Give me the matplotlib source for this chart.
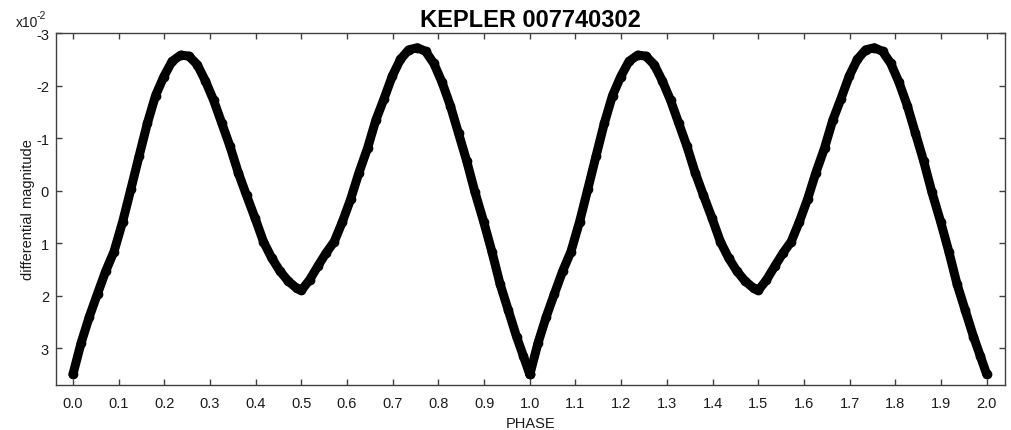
import matplotlib
matplotlib.use('Agg')
import matplotlib.pyplot as plt
import numpy as np

plt.rcParams['font.family'] = ['Liberation Sans', 'DejaVu Sans']
plt.rcParams['axes.unicode_minus'] = False

# one folded cycle (magnitude in units of 1e-2)
phase = [0.000, 0.018, 0.036, 0.054, 0.072, 0.090, 0.109, 0.127, 0.145, 0.163,
         0.181, 0.199, 0.217, 0.236, 0.254, 0.272, 0.290, 0.308, 0.326, 0.344,
         0.362, 0.380, 0.399, 0.417, 0.435, 0.453, 0.471, 0.490, 0.500, 0.518,
         0.536, 0.554, 0.572, 0.590, 0.608, 0.626, 0.645, 0.663, 0.681, 0.699,
         0.717, 0.735, 0.754, 0.772, 0.790, 0.808, 0.826, 0.844, 0.862, 0.880,
         0.899, 0.917, 0.935, 0.953, 0.971, 0.986, 1.000]
mag = [3.50, 2.90, 2.40, 1.96, 1.53, 1.16, 0.59, -0.03, -0.66, -1.28,
       -1.81, -2.17, -2.46, -2.58, -2.56, -2.40, -2.09, -1.72, -1.28, -0.84,
       -0.34, 0.09, 0.53, 0.97, 1.28, 1.53, 1.72, 1.86, 1.90, 1.70,
       1.44, 1.19, 0.97, 0.59, 0.16, -0.34, -0.81, -1.34, -1.75, -2.18,
       -2.50, -2.68, -2.72, -2.65, -2.42, -2.06, -1.62, -1.09, -0.56, 0.03,
       0.59, 1.16, 1.78, 2.28, 2.78, 3.15, 3.50]

xticks = [round(0.1 * i, 1) for i in range(21)]
yticks = [-3, -2, -1, 0, 1, 2, 3]

fig = plt.figure(figsize=(10.12, 4.31), dpi=100)
ax = fig.add_axes([0.0553, 0.1044, 0.9378, 0.8167])

ph = np.array(phase)
for k in [0, 1]:
    ax.plot(ph + k, mag, color='black', lw=6.5, marker='o', ms=6,
            solid_capstyle='round', solid_joinstyle='round')

ax.set_xlim(-0.037, 2.04)
ax.set_ylim(3.70, -3.0)
ax.set_xticks(xticks)
ax.set_xticklabels(['%.1f' % v for v in xticks])
ax.set_yticks(yticks)
ax.set_yticklabels([str(v) for v in yticks])

ax.tick_params(direction='in', length=4, width=1, top=True, right=True,
               labelsize=10.5, colors='#404040', labelcolor='#1a1a1a')
ax.tick_params(axis='x', pad=8)
ax.tick_params(axis='y', pad=5)
for s in ax.spines.values():
    s.set_color('#404040')
    s.set_linewidth(1)

ax.set_xlabel('PHASE', fontsize=10.5, color='#1a1a1a', labelpad=4)
ax.set_ylabel('differential magnitude', fontsize=10.5, color='#1a1a1a', labelpad=1)
ax.set_title('KEPLER 007740302', fontsize=17, fontweight='bold', pad=5)

# axis multiplier, top-left
fig.text(0.016, 0.937, 'x10', fontsize=10, color='#1a1a1a')
fig.text(0.0365, 0.957, '-2', fontsize=7.5, color='#1a1a1a')

fig.savefig('out.png', dpi=100)
